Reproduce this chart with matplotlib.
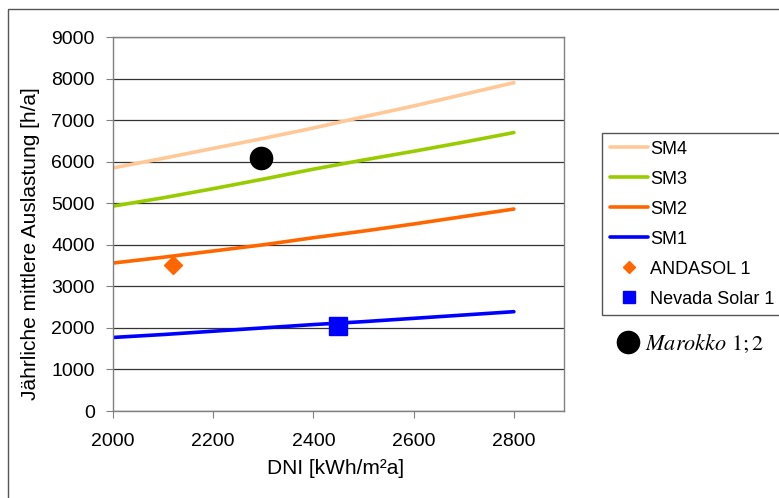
import matplotlib
matplotlib.use("Agg")
import matplotlib.pyplot as plt
from matplotlib.lines import Line2D
from matplotlib.patches import Rectangle

plt.rcParams["font.family"] = ["Liberation Sans", "DejaVu Sans"]
plt.rcParams["mathtext.fontset"] = "stix"

# DNI values and full-load hours per solar multiple
dni = [2000, 2100, 2200, 2300, 2400, 2500, 2600, 2700, 2800]
sm4 = [5850, 6080, 6320, 6560, 6810, 7080, 7340, 7620, 7900]
sm3 = [4930, 5130, 5350, 5580, 5820, 6040, 6250, 6470, 6700]
sm2 = [3560, 3700, 3850, 4000, 4170, 4330, 4500, 4680, 4860]
sm1 = [1770, 1840, 1920, 2000, 2080, 2150, 2230, 2310, 2390]

# real plants
andasol_x, andasol_y = [2120], [3520]
nevada_x, nevada_y = [2450], [2040]
marokko_x, marokko_y = [2295], [6100]

W, H = 779, 498
fig = plt.figure(figsize=(W / 100, H / 100), dpi=100)
ax = fig.add_axes([113 / W, 1 - 411 / H, (564 - 113) / W, (411 - 37) / H])

# outer chart border
fig.patches.append(Rectangle((8 / W, -0.05), 1.05, 1 - 9 / H + 0.05, transform=fig.transFigure,
                             fill=False, edgecolor="#555555", lw=1.0))

l4, = ax.plot(dni, sm4, color="#FFC896", lw=2.6, solid_capstyle="round")
l3, = ax.plot(dni, sm3, color="#99CC00", lw=2.6, solid_capstyle="round")
l2, = ax.plot(dni, sm2, color="#FF6600", lw=2.6, solid_capstyle="round")
l1, = ax.plot(dni, sm1, color="#0000FF", lw=2.6, solid_capstyle="round")
pa, = ax.plot(andasol_x, andasol_y, ls="none", marker="D", ms=8.7, color="#FF6600", mec="#FF6600")
pn, = ax.plot(nevada_x, nevada_y, ls="none", marker="s", ms=12.5, color="#0000FF", mec="#0000FF")
pm, = ax.plot(marokko_x, marokko_y, ls="none", marker="o", ms=16, color="black")

ax.set_xlim(2000, 2900)
ax.set_ylim(0, 9000)
ax.set_xticks([2000, 2200, 2400, 2600, 2800])
ax.set_yticks(range(0, 9001, 1000))
ax.grid(axis="y", color="#333333", lw=0.9)
ax.set_axisbelow(True)
for s in ax.spines.values():
    s.set_color("#808080")
    s.set_linewidth(1.0)
ax.tick_params(axis="both", direction="out", length=5, color="#808080", labelsize=14)
ax.tick_params(axis="y", pad=8)
ax.tick_params(axis="x", pad=11)

fig.text(336 / W, 1 - 468 / H, "DNI [kWh/m²a]", ha="center", va="center", fontsize=15)
fig.text(31 / W, 1 - 244 / H, "Jährliche mittlere Auslastung [h/a]", ha="center", va="center",
         rotation=90, fontsize=15)

leg = fig.legend([l4, l3, l2, l1, pa, pn],
                 ["SM4", "SM3", "SM2", "SM1", "ANDASOL 1", "Nevada Solar 1"],
                 loc="upper left", bbox_to_anchor=(602 / W, 1 - 314 / H, 200 / W, 181 / H),
                 mode="expand", fontsize=13, markerscale=0.72, handlelength=2.1,
                 handletextpad=0.15, labelspacing=0.72, borderpad=0.42, borderaxespad=0,
                 fancybox=False, framealpha=1, edgecolor="#555555")
leg.get_frame().set_linewidth(1.0)

fig.legend([Line2D([], [], ls="none", marker="o", ms=16, color="black")],
           [r"$Marokko\ 1;2$"], loc="center left", bbox_to_anchor=(608 / W, 1 - 344 / H),
           frameon=False, fontsize=16, handlelength=1.0, handletextpad=0.25, borderaxespad=0)

fig.savefig("out.png", dpi=100)
